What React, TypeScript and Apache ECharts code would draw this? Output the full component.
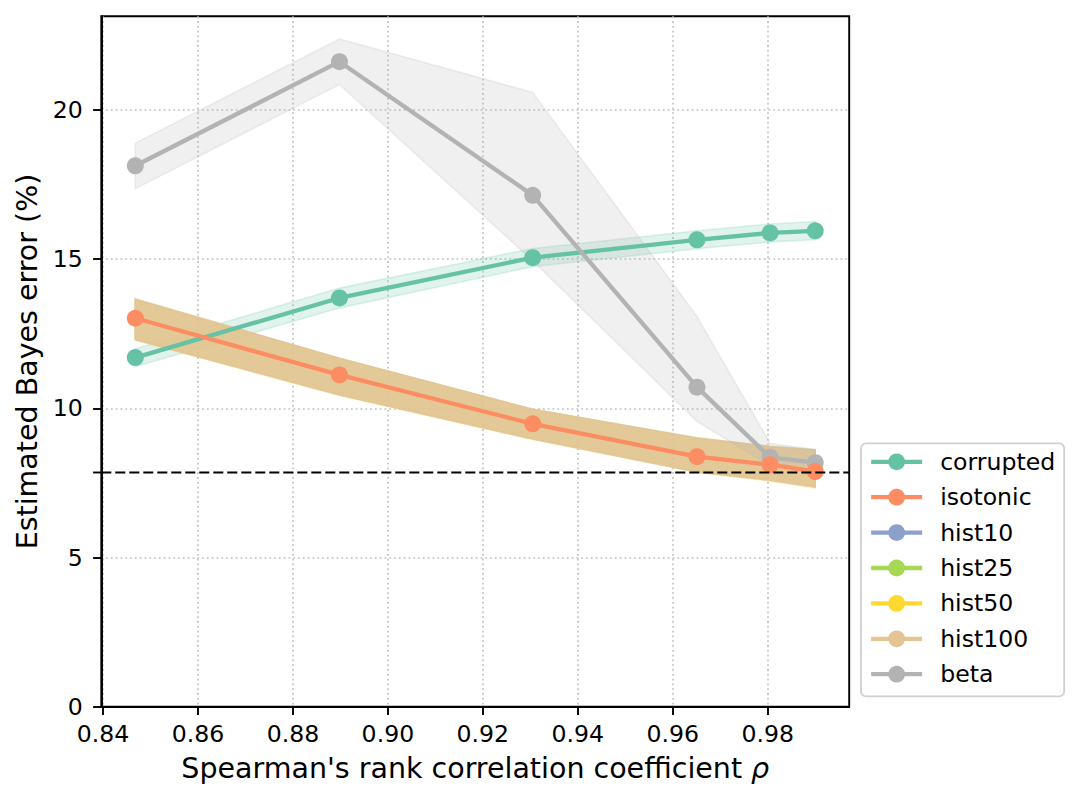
import React, { useEffect, useRef } from "react";
import * as echarts from "echarts";

const FONT = "'DejaVu Sans', 'Liberation Sans', sans-serif";

// Spearman's rho (x) of each corruption level
const rho = [0.8468, 0.8898, 0.9305, 0.9651, 0.9805, 0.99];

const corrupted = [11.7, 13.7, 15.05, 15.65, 15.88, 15.95];
const corruptedLo = [11.4, 13.36, 14.75, 15.35, 15.58, 15.65];
const corruptedHi = [12.0, 14.03, 15.36, 15.95, 16.18, 16.26];

const isotonic = [13.02, 11.12, 9.48, 8.38, 8.11, 7.88];
const isotonicLo = [12.32, 10.47, 8.99, 7.9, 7.62, 7.4];
const isotonicHi = [13.64, 11.68, 9.97, 9.0, 8.7, 8.58];

const hist10Lo = [12.3, 10.45, 8.97, 7.86, 7.58, 7.35];
const hist10Hi = [13.66, 11.68, 9.97, 9.02, 8.72, 8.6];
const hist25Lo = [12.31, 10.46, 8.98, 7.88, 7.6, 7.38];
const hist25Hi = [13.64, 11.67, 9.96, 9.0, 8.74, 8.63];
const hist50Lo = [12.28, 10.43, 8.95, 7.86, 7.56, 7.32];
const hist50Hi = [13.65, 11.66, 9.96, 9.01, 8.71, 8.58];
const hist100Lo = [12.3, 10.45, 8.97, 7.87, 7.59, 7.36];
const hist100Hi = [13.66, 11.68, 9.97, 9.0, 8.72, 8.6];

const beta = [18.13, 21.62, 17.14, 10.71, 8.36, 8.18];
const betaLo = [17.36, 20.85, 14.95, 9.56, 8.08, 7.95];
const betaHi = [18.89, 22.38, 20.59, 13.08, 8.83, 8.61];

const bayesLine = [7.85];

const xTicks = [0.84, 0.86, 0.88, 0.9, 0.92, 0.94, 0.96, 0.98];
const yTicks = [0, 5, 10, 15, 20];
const xRange = [0.83964, 0.99716];
const yRange = [0, 23.14];

const legendNames = ["corrupted", "isotonic", "hist10", "hist25", "hist50", "hist100", "beta"];
const colors: Record<string, string> = {
  corrupted: "#66c2a5",
  isotonic: "#fc8d62",
  hist10: "#8da0cb",
  hist25: "#a6d854",
  hist50: "#ffd92f",
  hist100: "#e5c494",
  beta: "#b3b3b3",
};

function band(name: string, color: string, lo: number[], hi: number[], alpha: number) {
  const data = rho.map((x, i) => [x, lo[i], hi[i]]);
  return {
    type: "custom",
    name: name + " band",
    silent: true,
    z: 1,
    clip: true,
    data,
    encode: { x: 0, y: [1, 2] },
    renderItem: (params: any, api: any) => {
      if (params.dataIndex !== 0) return null;
      const top = data.map((d) => api.coord([d[0], d[2]]));
      const bot = data.map((d) => api.coord([d[0], d[1]])).reverse();
      return {
        type: "polygon",
        shape: { points: top.concat(bot) },
        style: { fill: color, stroke: color, lineWidth: 1.6, opacity: alpha },
      };
    },
  };
}

function line(name: string, values: number[] | null, z: number) {
  const color = colors[name];
  return {
    type: "line",
    name,
    z,
    silent: true,
    data: values ? rho.map((x, i) => [x, values[i]]) : [],
    symbol: "circle",
    symbolSize: 17,
    showSymbol: true,
    lineStyle: { color, width: 4.3 },
    itemStyle: { color, opacity: 1 },
    emphasis: { disabled: true },
  };
}

export default function App() {
  const ref = useRef<HTMLDivElement>(null);
  useEffect(() => {
    if (!ref.current) return;
    const chart = echarts.init(ref.current, undefined, { renderer: "svg" });
    const axisText = { fontFamily: FONT, fontSize: 23.6, color: "#000" };
    const option: any = {
      animation: false,
      backgroundColor: "#ffffff",
      grid: {
        left: 101.3,
        top: 16.3,
        width: 747.9,
        height: 690.4,
        show: true,
        borderColor: "#000",
        borderWidth: 1.9,
        backgroundColor: "transparent",
      },
      xAxis: {
        type: "value",
        min: xRange[0],
        max: xRange[1],
        axisLine: { show: true, onZero: false, lineStyle: { color: "#000", width: 1.9 } },
        axisTick: { show: true, customValues: xTicks, length: 8.2, lineStyle: { color: "#000", width: 1.9 } },
        axisLabel: {
          customValues: xTicks,
          formatter: (v: number) => v.toFixed(2),
          margin: 15.5,
          ...axisText,
        },
        splitLine: { show: true, lineStyle: { color: "#c0c0c0", width: 1.6, type: [1.8, 3] } },
        name: "Spearman's rank correlation coefficient {i|ρ}",
        nameLocation: "middle",
        nameGap: 47,
        nameTextStyle: {
          fontFamily: FONT,
          fontSize: 28.5,
          color: "#000",
          rich: { i: { fontFamily: FONT, fontSize: 28.5, fontStyle: "italic", color: "#000" } },
        },
      },
      yAxis: {
        type: "value",
        min: yRange[0],
        max: yRange[1],
        axisLine: { show: true, onZero: false, lineStyle: { color: "#000", width: 1.9 } },
        axisTick: { show: true, customValues: yTicks, length: 8.2, lineStyle: { color: "#000", width: 1.9 } },
        axisLabel: { customValues: yTicks, margin: 18.5, ...axisText },
        splitLine: { show: true, lineStyle: { color: "#c0c0c0", width: 1.6, type: [1.8, 3] } },
        name: "Estimated Bayes error (%)",
        nameLocation: "middle",
        nameGap: 57,
        nameTextStyle: { fontFamily: FONT, fontSize: 28.5, color: "#000" },
      },
      legend: {
        data: legendNames,
        orient: "vertical",
        left: 861,
        top: 443.3,
        itemWidth: 51,
        itemHeight: 21,
        itemGap: 11.4,
        padding: [6.5, 9, 10.2, 8],
        borderColor: "#d0d0d0",
        borderWidth: 1.8,
        borderRadius: 5,
        backgroundColor: "rgba(255,255,255,0.8)",
        selectedMode: false,
        lineStyle: { width: 4.3 },
        textStyle: { fontFamily: FONT, fontSize: 23.6, color: "#000", padding: [0, 0, 0, 13] },
      },
      series: [
        band("corrupted", colors.corrupted, corruptedLo, corruptedHi, 0.2),
        band("isotonic", colors.isotonic, isotonicLo, isotonicHi, 0.2),
        band("hist10", colors.hist10, hist10Lo, hist10Hi, 0.2),
        band("hist25", colors.hist25, hist25Lo, hist25Hi, 0.2),
        band("hist50", colors.hist50, hist50Lo, hist50Hi, 0.2),
        band("hist100", colors.hist100, hist100Lo, hist100Hi, 0.75),
        band("beta", colors.beta, betaLo, betaHi, 0.2),
        line("corrupted", corrupted, 3),
        line("hist10", null, 3),
        line("hist25", null, 3),
        line("hist50", null, 3),
        line("hist100", null, 3),
        line("beta", beta, 4),
        line("isotonic", isotonic, 5),
        {
          type: "custom",
          name: "bayes",
          silent: true,
          z: 6,
          clip: false,
          data: bayesLine.map((v) => [rho[0], v]),
          encode: { x: 0, y: 1 },
          renderItem: (params: any, api: any) => {
            const cs = params.coordSys;
            const y = api.coord([rho[0], api.value(1)])[1];
            return {
              type: "group",
              children: [
                {
                  type: "line",
                  shape: { x1: cs.x, y1: y, x2: cs.x + cs.width, y2: y },
                  style: { stroke: "#000", lineWidth: 2, lineDash: [10, 4] },
                },
                {
                  type: "line",
                  shape: { x1: cs.x - 8.2, y1: y, x2: cs.x, y2: y },
                  style: { stroke: "#000", lineWidth: 1.9 },
                },
              ],
            };
          },
        },
      ],
    };
    chart.setOption(option);
    return () => chart.dispose();
  }, []);
  return (
    <div
      ref={ref}
      style={{ position: "fixed", left: 0, top: 0, width: 1081, height: 805, background: "#fff" }}
    />
  );
}
